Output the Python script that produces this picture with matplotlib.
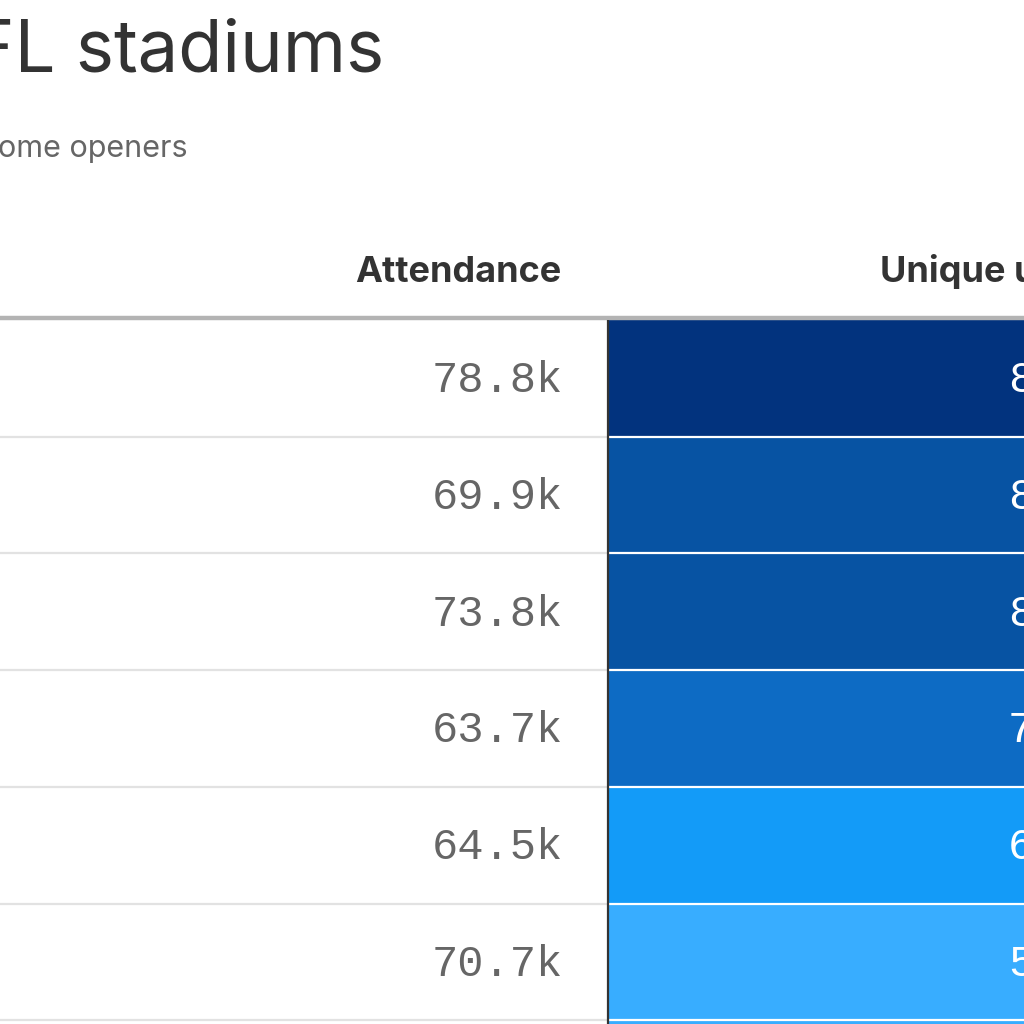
import matplotlib
matplotlib.use("Agg")
import matplotlib.pyplot as plt

# visible part of the table
title = "FL stadiums"
subtitle = "ome openers"
col_headers = ["Attendance", "Unique u"]
attendance_k = [78.8, 69.9, 73.8, 63.7, 64.5, 70.7]
unique_lead = ["8", "8", "8", "7", "6", "5"]  # only first digit visible
cell_colors = ["#02337E", "#0753A3", "#0753A3", "#0D6BC4", "#139BF8", "#38ADFF", "#38ADFF"]

W = H = 1024
ROW_TOP = 320
ROW_H = 116.7
COL_X = 608
MONO = "Liberation Mono"

fig = plt.figure(figsize=(10.24, 10.24), dpi=100)
ax = fig.add_axes([0, 0, 1, 1])
ax.set_xlim(0, W)
ax.set_ylim(H, 0)
ax.axis("off")

n = len(cell_colors)
centers = [ROW_TOP + (i + 0.5) * ROW_H for i in range(n)]
bottoms = [ROW_TOP + (i + 1) * ROW_H for i in range(n)]

# coloured column
ax.barh(centers, W - COL_X, height=ROW_H, left=COL_X, color=cell_colors, edgecolor="none", zorder=1)

# row separators
ax.hlines(bottoms, 0, COL_X, color="#e2e2e2", lw=1.6, zorder=2)
ax.hlines(bottoms, COL_X, W, color="white", lw=1.6, zorder=2)

# header rule and column divider
ax.hlines(ROW_TOP - 2, 0, W, color="#b3b3b3", lw=3.2, zorder=3)
ax.vlines(COL_X, ROW_TOP, H, color="#333333", lw=1.6, zorder=3)

# titles
ax.text(384, 72, title, fontsize=52, family="Inter", color="#333333", ha="right", va="baseline")
ax.text(188, 157, subtitle, fontsize=22, family="Inter", color="#666666", ha="right", va="baseline")

# column headers
ax.text(561, 282, col_headers[0], fontsize=26, family="Inter", weight="bold", color="#333333",
        ha="right", va="baseline")
ax.text(880, 282, col_headers[1], fontsize=26, family="Inter", weight="bold", color="#333333",
        ha="left", va="baseline")

for c, a, u in zip(centers, attendance_k, unique_lead):
    ax.text(563, c + 14, f"{a:.1f}k", fontsize=31.5, family=MONO, color="#666666",
            ha="right", va="baseline")
    ax.text(1008, c + 14, u, fontsize=31.5, family=MONO, color="white",
            ha="left", va="baseline")

fig.savefig("out.png", dpi=100)
